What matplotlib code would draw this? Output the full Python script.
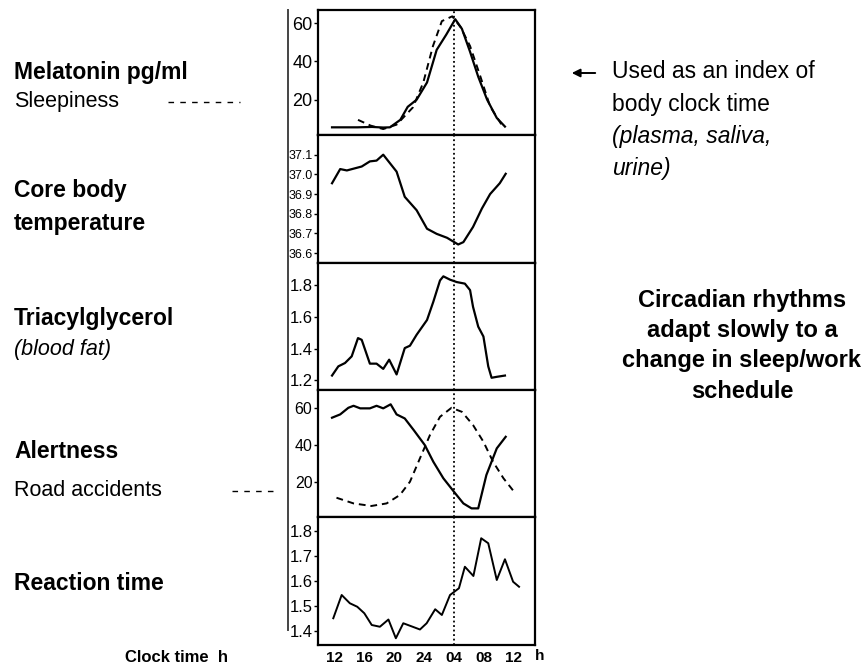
import matplotlib
matplotlib.use('Agg')
import matplotlib.pyplot as plt
from matplotlib.lines import Line2D
from matplotlib.patches import FancyArrowPatch

# hours counted on from noon, so 28 = 04 h next morning, 36 = next noon
mel_h = [11.6, 13.0, 15.0, 17.0, 18.5, 19.4, 20.8, 21.8, 23.0, 24.4, 25.7, 27.0, 28.2,
         29.1, 30.2, 31.3, 32.5, 33.8, 34.9]
mel_v = [5.6, 5.6, 5.6, 5.8, 5.5, 5.6, 9.5, 16.3, 20.0, 29.0, 46.0, 54.0, 62.0,
         57.0, 45.0, 32.0, 20.0, 10.5, 6.0]
sleep_h = [15.1, 16.8, 18.5, 20.3, 22.5, 23.9, 25.2, 26.4, 27.8, 28.9, 30.2, 31.6, 32.9, 34.6]
sleep_v = [9.5, 6.5, 4.7, 7.0, 16.0, 29.0, 48.0, 61.0, 63.5, 58.0, 48.0, 32.0, 16.5, 6.0]

temp_h = [11.6, 12.7, 13.6, 15.6, 16.7, 17.6, 18.5, 19.4, 20.3, 21.4, 23.0, 24.4, 25.7,
          27.1, 28.6, 29.3, 30.6, 31.8, 32.9, 34.2, 35.0]
temp_v = [36.955, 37.027, 37.02, 37.04, 37.066, 37.07, 37.10, 37.057, 37.014, 36.886,
          36.818, 36.724, 36.698, 36.678, 36.644, 36.656, 36.733, 36.827, 36.90, 36.955, 37.003]

tag_h = [11.6, 12.45, 13.35, 14.25, 15.1, 15.6, 16.7, 17.6, 18.5, 19.3, 20.3, 21.4, 22.1,
         23.0, 24.4, 25.25, 26.15, 26.6, 27.5, 28.4, 29.5, 30.2, 30.6, 31.3, 32.0, 32.65,
         33.1, 33.8, 34.9]
tag_v = [1.231, 1.289, 1.31, 1.352, 1.467, 1.456, 1.306, 1.306, 1.273, 1.331, 1.238, 1.404,
         1.419, 1.488, 1.581, 1.696, 1.83, 1.856, 1.835, 1.82, 1.81, 1.769, 1.664, 1.539,
         1.477, 1.289, 1.217, 1.223, 1.231]

alert_h = [11.6, 12.7, 13.8, 14.5, 15.4, 16.7, 17.6, 18.5, 19.5, 20.3, 21.4, 22.6, 24.1,
           25.25, 26.6, 28.2, 29.3, 30.4, 31.3, 32.4, 33.8, 35.0]
alert_v = [54.9, 56.7, 60.3, 61.4, 60.0, 60.0, 61.4, 60.0, 62.2, 56.7, 54.5, 48.2, 40.0,
           30.9, 21.9, 13.7, 8.2, 5.5, 5.5, 23.7, 38.2, 44.5]
road_h = [12.2, 14.5, 16.9, 18.95, 20.75, 22.1, 23.45, 24.8, 26.15, 27.7, 29.1, 30.6,
          32.0, 33.3, 34.7, 36.3]
road_v = [11.3, 8.2, 6.8, 8.2, 12.8, 20.0, 32.8, 45.5, 55.4, 60.3, 58.1, 50.9, 41.8,
          30.9, 21.9, 13.7]

react_h = [11.77, 12.9, 14.0, 15.0, 15.95, 16.95, 18.05, 19.2, 20.2, 21.2, 23.45, 24.35,
           25.5, 26.4, 27.5, 28.7, 29.5, 30.65, 31.7, 32.65, 33.8, 34.9, 36.0, 36.8]
react_v = [1.45, 1.543, 1.51, 1.496, 1.47, 1.423, 1.416, 1.445, 1.37, 1.43, 1.405, 1.43,
           1.486, 1.463, 1.543, 1.57, 1.656, 1.619, 1.77, 1.75, 1.603, 1.686, 1.596, 1.576]

x_ticks = [12, 16, 20, 24, 28, 32, 36]
x_labels = ['12', '16', '20', '24', '04', '08', '12']

W, H = 866, 665
plt.rcParams['font.family'] = ['Liberation Sans', 'DejaVu Sans']

fig = plt.figure(figsize=(W / 100, H / 100), dpi=100)


def px(x, y):
    return x / W, 1 - y / H


def panel(top, bottom):
    l, b = px(318, bottom)
    return fig.add_axes([l, b, (535 - 318) / W, (bottom - top) / H])


edges = [10, 135, 263, 390, 517, 645]
axes = [panel(edges[i], edges[i + 1]) for i in range(5)]

solid = dict(color='black', lw=1.6)
dashed = dict(color='black', lw=1.4, ls=(0, (3.5, 2.5)))

axes[0].plot(mel_h, mel_v, **solid)
axes[0].plot(sleep_h, sleep_v, **dashed)
axes[0].set_ylim(1.6, 66.8)
axes[0].set_yticks([20, 40, 60])

axes[1].plot(temp_h, temp_v, **solid)
axes[1].set_ylim(36.55, 37.2)
axes[1].set_yticks([36.6, 36.7, 36.8, 36.9, 37.0, 37.1])
axes[1].set_yticklabels(['36.6', '36.7', '36.8', '36.9', '37.0', '37.1'])

axes[2].plot(tag_h, tag_v, **solid)
axes[2].set_ylim(1.14, 1.94)
axes[2].set_yticks([1.2, 1.4, 1.6, 1.8])

axes[3].plot(alert_h, alert_v, **solid)
axes[3].plot(road_h, road_v, **dashed)
axes[3].set_ylim(0.8, 70)
axes[3].set_yticks([20, 40, 60])

axes[4].plot(react_h, react_v, color='black', lw=1.4)
axes[4].set_ylim(1.343, 1.855)
axes[4].set_yticks([1.4, 1.5, 1.6, 1.7, 1.8])

tick_sizes = [13, 9, 12, 11.5, 12]
for ax, fs in zip(axes, tick_sizes):
    ax.set_xlim(9.71, 38.95)
    ax.axvline(28, color='black', lw=1.3, ls=(0, (1, 1.5)))
    for s in ax.spines.values():
        s.set_linewidth(1.6)
    ax.tick_params(axis='y', direction='out', length=3, width=1, pad=1, labelsize=fs)
    ax.set_xticks(x_ticks)
    ax.tick_params(axis='x', length=0, labelbottom=False)

axes[4].tick_params(axis='x', labelbottom=True, labelsize=11, pad=4)
axes[4].set_xticklabels(x_labels, fontweight='bold')
axes[4].text(39.6, -0.085, 'h', transform=axes[4].get_xaxis_transform(),
             fontsize=11, fontweight='bold', ha='center', va='center')

# bracket on the left of the panels
fig.add_artist(Line2D([288 / W, 288 / W], [1 - 10 / H, 1 - 630 / H], color='#444444', lw=1.4))

left_txt = [
    (72, 'Melatonin pg/ml', 'bold', 'normal'),
    (101, 'Sleepiness', 'normal', 'normal'),
    (190, 'Core body', 'bold', 'normal'),
    (224, 'temperature', 'bold', 'normal'),
    (318, 'Triacylglycerol', 'bold', 'normal'),
    (350, '(blood fat)', 'normal', 'italic'),
    (452, 'Alertness', 'bold', 'normal'),
    (490, 'Road accidents', 'normal', 'normal'),
    (583, 'Reaction time', 'bold', 'normal'),
]
for y, s, w, st in left_txt:
    fig.text(*px(14, y), s, fontsize=16.5 if w == 'bold' else 15.5,
             fontweight=w, fontstyle=st, va='center', ha='left')

fig.text(*px(125, 657), 'Clock time  h', fontsize=12, fontweight='bold', va='center')

# legend dashes beside the labels
for x0, x1, y in [(168, 240, 102), (232, 277, 491)]:
    fig.add_artist(Line2D([x0 / W, x1 / W], [1 - y / H, 1 - y / H], color='black',
                          lw=1.0, ls=(0, (4, 4.5))))

right_txt = [
    (72, 'Used as an index of', 'normal'),
    (104, 'body clock time', 'normal'),
    (137, '(plasma, saliva,', 'italic'),
    (168, 'urine)', 'italic'),
]
for y, s, st in right_txt:
    fig.text(*px(612, y), s, fontsize=16.5, fontstyle=st, va='center', ha='left')

fig.add_artist(FancyArrowPatch(px(598, 73), px(569, 73), arrowstyle='-|>',
                               mutation_scale=12, color='black', lw=1.4))

for y, s in [(300, 'Circadian rhythms'), (330, 'adapt slowly to a'),
             (361, 'change in sleep/work'), (392, 'schedule')]:
    fig.text(*px(742, y), s, fontsize=17, fontweight='bold', va='center', ha='center')

fig.savefig('out.png', dpi=100)
